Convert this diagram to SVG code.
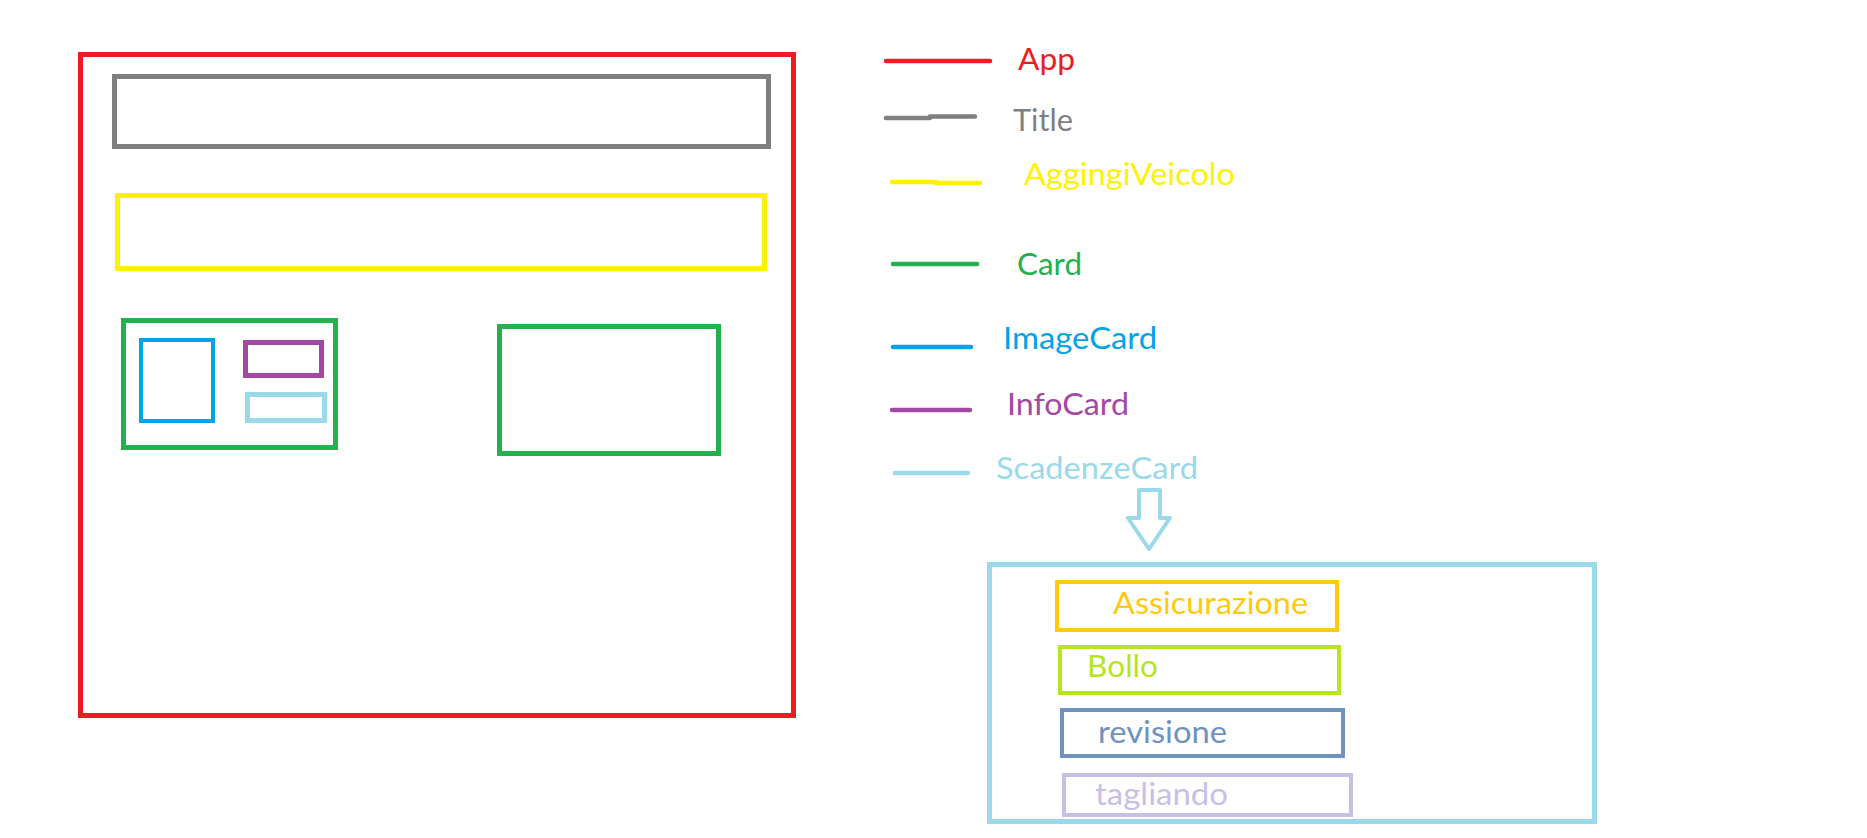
<svg xmlns="http://www.w3.org/2000/svg" width="1867" height="838" viewBox="0 0 1867 838">
<style>
rect{fill:none}
.s5{stroke-width:5}
.s4{stroke-width:4}
.leg{fill:none;stroke-width:4.5;stroke-linecap:round}
text{font-family:Lato,"Open Sans","Liberation Sans",sans-serif;font-size:31px}
.red{stroke:#ED1C24}.gray{stroke:#7F7F7F}.yel{stroke:#FFF200}.grn{stroke:#22B14C}.blu{stroke:#00A2E8}.pur{stroke:#A349A4}.lbl{stroke:#99D9EA}
.gold{stroke:#FFC90E}.lime{stroke:#B5E61D}.bgr{stroke:#7092BE}.lav{stroke:#C8BFE7}
</style>
<rect width="1867" height="838" fill="#FFFFFF" style="fill:#FFFFFF"/>
<g id="app"><rect class="red s5" x="80.5" y="54.5" width="713" height="661"/></g>
<g id="title"><rect class="gray s5" x="114.5" y="76.5" width="654" height="70"/></g>
<g id="aggiungiVeicolo"><rect class="yel s5" x="117.5" y="195.5" width="647" height="73"/></g>
<g id="card1"><rect class="grn s5" x="123.5" y="320.5" width="212" height="127"/>
<g id="imageCard"><rect class="blu s4" x="141" y="340" width="72" height="81"/></g>
<g id="infoCard"><rect class="pur s5" x="245.5" y="342.5" width="76" height="33"/></g>
<g id="scadenzeCardSmall"><rect class="lbl s5" x="247.5" y="394.5" width="77" height="26"/></g>
</g>
<g id="card2"><rect class="grn s5" x="499.5" y="326.5" width="219" height="127"/></g>
<g id="legend-app"><path class="leg red" d="M886 61H990"/><text x="1018" y="70" fill="#ED1C24" textLength="57" lengthAdjust="spacingAndGlyphs">App</text></g>
<g id="legend-title"><path class="leg gray" d="M886 118H930M930 116.5H975"/><text x="1013" y="131" fill="#7F7F7F" textLength="60" lengthAdjust="spacingAndGlyphs">Title</text></g>
<g id="legend-aggingi"><path class="leg yel" d="M892 182H936M936 183H980"/><text x="1024" y="185" fill="#FFF200" textLength="211" lengthAdjust="spacingAndGlyphs">AggingiVeicolo</text></g>
<g id="legend-card"><path class="leg grn" d="M893 264H977"/><text x="1017" y="275" fill="#22B14C" textLength="65" lengthAdjust="spacingAndGlyphs">Card</text></g>
<g id="legend-imagecard"><path class="leg blu" d="M893 347H971"/><text x="1003" y="349" fill="#00A2E8" textLength="154" lengthAdjust="spacingAndGlyphs">ImageCard</text></g>
<g id="legend-infocard"><path class="leg pur" d="M892 410H970"/><text x="1007" y="415" fill="#A349A4" textLength="122" lengthAdjust="spacingAndGlyphs">InfoCard</text></g>
<g id="legend-scadenze"><path class="leg lbl" d="M895 473H968"/><text x="996" y="479" fill="#99D9EA" textLength="202" lengthAdjust="spacingAndGlyphs">ScadenzeCard</text></g>
<g id="connectors"><path class="lbl s4" fill="none" stroke-linejoin="round" d="M1139 518V490H1160V518H1170L1149 549L1128 518Z"/></g>
<g id="scadenzeCard"><rect class="lbl s5" x="989.5" y="564.5" width="605" height="257"/></g>
<g id="assicurazione"><rect class="gold s4" x="1057" y="582" width="280" height="48"/><text x="1113" y="614" fill="#FFC90E" textLength="195" lengthAdjust="spacingAndGlyphs">Assicurazione</text></g>
<g id="bollo"><rect class="lime s4" x="1060" y="647" width="279" height="46"/><text x="1087" y="677" fill="#B5E61D" textLength="71" lengthAdjust="spacingAndGlyphs">Bollo</text></g>
<g id="revisione"><rect class="bgr s4" x="1062" y="710" width="281" height="46"/><text x="1098" y="743" fill="#7092BE" textLength="129" lengthAdjust="spacingAndGlyphs">revisione</text></g>
<g id="tagliando"><rect class="lav s4" x="1064" y="775" width="287" height="40"/><text x="1095" y="805" fill="#C8BFE7" textLength="133" lengthAdjust="spacingAndGlyphs">tagliando</text></g>
</svg>
